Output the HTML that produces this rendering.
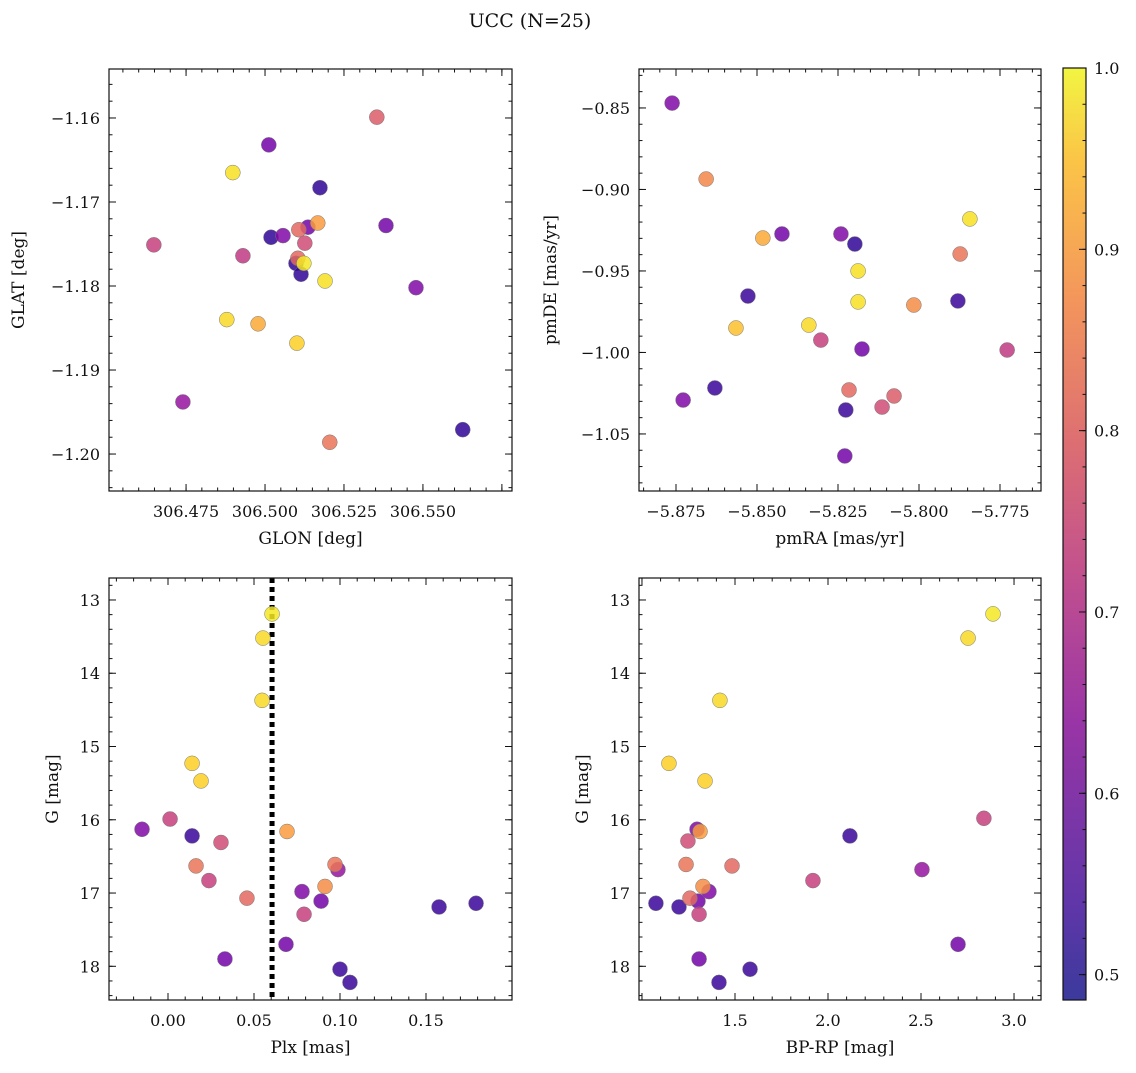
<!DOCTYPE html>
<html><head><meta charset="utf-8">
<style>
html,body{margin:0;padding:0;background:#fff;}
svg text{font-family:"DejaVu Serif","Liberation Serif",serif;fill:#111;}
</style></head>
<body>
<svg id="fig" width="1136" height="1068" xmlns="http://www.w3.org/2000/svg">
<defs>
<linearGradient id="cbgrad" x1="0" y1="1" x2="0" y2="0">
<stop offset="0" stop-color="#3b3a9c"/><stop offset="0.1" stop-color="#5f36a8"/><stop offset="0.3" stop-color="#9a35a6"/><stop offset="0.45" stop-color="#c04f8f"/><stop offset="0.6" stop-color="#dd6f72"/><stop offset="0.75" stop-color="#f3955c"/><stop offset="0.9" stop-color="#fbc447"/><stop offset="1" stop-color="#f2f542"/>
</linearGradient>
</defs>
<text x="530" y="27" font-size="19" text-anchor="middle">UCC (N=25)</text>
</svg>
<script>
// ---- data ----
const tlGlon=[306.5354,306.5012,306.4898,306.5174,306.4648,306.4930,306.5019,306.5057,306.5107,306.5136,306.5167,306.5126,306.5104,306.5098,306.5123,306.5114,306.5190,306.5383,306.5478,306.4879,306.4978,306.5101,306.4740,306.5205,306.5626];
const tlGlat=[-1.1599,-1.1632,-1.1665,-1.1683,-1.1751,-1.1764,-1.1742,-1.1740,-1.1733,-1.1730,-1.1725,-1.1749,-1.1767,-1.1773,-1.1773,-1.1786,-1.1794,-1.1728,-1.1802,-1.1840,-1.1845,-1.1868,-1.1938,-1.1986,-1.1971];
const tlProb=[0.78,0.6,0.97,0.52,0.73,0.72,0.52,0.62,0.8,0.6,0.88,0.75,0.8,0.52,0.98,0.52,0.97,0.6,0.62,0.96,0.9,0.95,0.65,0.82,0.52];
const trPmra=[-5.8762,-5.8657,-5.7843,-5.8482,-5.8423,-5.8241,-5.8198,-5.7873,-5.8188,-5.8528,-5.8188,-5.8016,-5.7880,-5.8565,-5.8340,-5.8303,-5.8176,-5.7728,-5.8728,-5.8630,-5.8216,-5.8114,-5.8077,-5.8226,-5.8229];
const trPmde=[-0.8470,-0.8936,-0.9181,-0.9298,-0.9273,-0.9273,-0.9335,-0.9396,-0.9500,-0.9654,-0.9690,-0.9709,-0.9684,-0.9850,-0.9832,-0.9924,-0.9979,-0.9985,-1.0292,-1.0218,-1.0230,-1.0335,-1.0267,-1.0353,-1.0635];
const trProb=[0.62,0.85,0.97,0.9,0.6,0.62,0.52,0.82,0.97,0.53,0.97,0.86,0.53,0.93,0.96,0.73,0.6,0.72,0.62,0.53,0.8,0.75,0.78,0.53,0.6];
const blPlx=[0.0605,0.0552,0.0547,0.0140,0.0192,-0.0151,0.0012,0.0140,0.0308,0.0692,0.0163,0.0238,0.0459,0.0971,0.0988,0.0913,0.0779,0.0890,0.0791,0.1576,0.1791,0.0331,0.0686,0.1000,0.1058];
const blG=[13.19,13.52,14.37,15.23,15.47,16.13,15.99,16.22,16.31,16.16,16.63,16.83,17.07,16.61,16.68,16.91,16.98,17.11,17.29,17.19,17.14,17.90,17.70,18.04,18.22];
const blProb=[0.98,0.96,0.96,0.95,0.95,0.62,0.73,0.53,0.75,0.88,0.82,0.73,0.8,0.82,0.65,0.86,0.62,0.6,0.73,0.53,0.53,0.6,0.6,0.53,0.53];
const brBprp=[2.887,2.753,1.419,1.145,1.339,2.838,1.296,1.247,1.312,2.118,1.237,1.484,2.505,1.919,1.328,1.360,1.258,1.301,1.075,1.199,1.307,2.699,1.307,1.581,1.414];
const brG=[13.19,13.52,14.37,15.23,15.47,15.98,16.13,16.29,16.16,16.22,16.61,16.63,16.68,16.83,16.91,16.98,17.07,17.11,17.14,17.19,17.29,17.70,17.90,18.04,18.22];
const brProb=[0.98,0.96,0.96,0.95,0.95,0.73,0.62,0.75,0.88,0.53,0.82,0.8,0.65,0.73,0.86,0.62,0.8,0.6,0.53,0.53,0.73,0.6,0.6,0.53,0.53];
const plxLine=[0.0605];
const cbTicks=[0.5,0.6,0.7,0.8,0.9,1.0];

const NS='http://www.w3.org/2000/svg';
const svg=document.getElementById('fig');
function el(tag,attrs,parent){const e=document.createElementNS(NS,tag);for(const k in attrs)e.setAttribute(k,attrs[k]);(parent||svg).appendChild(e);return e;}
const plasma=[[13,8,135],[65,4,157],[106,0,168],[143,13,164],[177,42,144],[204,71,120],[225,100,98],[242,132,75],[252,166,54],[252,206,37],[240,249,33]];
const cmin=0.486,cmax=1.0;
function cmap(v){let t=(v-cmin)/(cmax-cmin);t=Math.max(0,Math.min(1,t))*10;const i=Math.min(9,Math.floor(t)),f=t-i;const a=plasma[i],b=plasma[i+1];return 'rgb('+a.map((c,k)=>Math.round(c+(b[k]-c)*f)).join(',')+')';}
function fmt(v,d){const s=Math.abs(v).toFixed(d);return (v<-1e-12?'\u2212':'')+s;}

function panel(o){
  const g=el('g',{});
  
  
  const sx=v=>o.x0+(v-o.xmin)/(o.xmax-o.xmin)*(o.x1-o.x0);
  const sy=v=>o.invert? o.y0+(v-o.ymin)/(o.ymax-o.ymin)*(o.y1-o.y0) : o.y1-(v-o.ymin)/(o.ymax-o.ymin)*(o.y1-o.y0);
  const tg=el('g',{stroke:'#111','stroke-width':1},g);
  function ticks(min,max,step,len,axis,label,dec,lmin,lmax){
    const start=Math.ceil(min/step-1e-6)*step;
    for(let v=start;v<=max+1e-9;v+=step){
      const showLab=label && (lmin===undefined || (v>=lmin-1e-9 && v<=lmax+1e-9));
      if(axis==='x'){const p=sx(v);
        el('line',{x1:p,y1:o.y1,x2:p,y2:o.y1-len},tg);el('line',{x1:p,y1:o.y0,x2:p,y2:o.y0+len},tg);
        if(showLab){const t=el('text',{x:p,y:o.y1+26,'font-size':16,'text-anchor':'middle',stroke:'none'},g);t.textContent=fmt(v,dec);}
      }else{const p=sy(v);
        el('line',{x1:o.x0,y1:p,x2:o.x0+len,y2:p},tg);el('line',{x1:o.x1,y1:p,x2:o.x1-len,y2:p},tg);
        if(showLab){const t=el('text',{x:o.x0-9,y:p+6,'font-size':16,'text-anchor':'end',stroke:'none'},g);t.textContent=fmt(v,dec);}
      }
    }
  }
  ticks(o.xmin,o.xmax,o.xminor,3.5,'x',false);
  ticks(o.xmin,o.xmax,o.xmajor,7,'x',true,o.xdec,o.xlab[0],o.xlab[1]);
  ticks(o.ymin,o.ymax,o.yminor,3.5,'y',false);
  ticks(o.ymin,o.ymax,o.ymajor,7,'y',true,o.ydec);
  if(o.vline){for(const v of o.vline){const l=el('line',{x1:sx(v),x2:sx(v),y1:o.y0,y2:o.y1,stroke:'#000','stroke-width':5,'stroke-dasharray':'5,4'},g);}}
  const pg=el('g',{},g);
  
  
  const idx=o.xs.map((_,i)=>i).sort((a,b)=>o.cs[a]-o.cs[b]);
  for(const i of idx){
    const c=el('circle',{cx:sx(o.xs[i]),cy:sy(o.ys[i]),r:7.5,fill:cmap(o.cs[i]),'fill-opacity':0.85,stroke:'#777','stroke-width':0.5},pg);
    
    
  }
  const fr=el('rect',{x:o.x0,y:o.y0,width:o.x1-o.x0,height:o.y1-o.y0,fill:'none',stroke:'#111','stroke-width':1.2},g);
  
  
  const xl=el('text',{x:(o.x0+o.x1)/2,y:o.y1+53,'font-size':17,'text-anchor':'middle'},g);xl.textContent=o.xlabel;
  
  
  const ly=(o.y0+o.y1)/2;
  const yl=el('text',{x:o.ylx,y:ly,'font-size':17,'text-anchor':'middle',transform:'rotate(-90 '+o.ylx+' '+ly+')'},g);yl.textContent=o.ylabel;
  
  
}

panel({name:'glon-glat-panel',x0:109,x1:512,y0:69,y1:491,xmin:306.4506,xmax:306.5782,ymin:-1.2044,ymax:-1.15417,xmajor:0.025,xminor:0.005,ymajor:0.01,yminor:0.002,xdec:3,ydec:2,xlab:[306.475,306.55],xs:tlGlon,ys:tlGlat,cs:tlProb,xlabel:'GLON [deg]',ylabel:'GLAT [deg]',ylx:24});
panel({name:'pm-panel',x0:639,x1:1041,y0:69,y1:491,xmin:-5.88642,xmax:-5.76235,ymin:-1.085,ymax:-0.8261,xmajor:0.025,xminor:0.005,ymajor:0.05,yminor:0.01,xdec:3,ydec:2,xlab:[-5.875,-5.775],xs:trPmra,ys:trPmde,cs:trProb,xlabel:'pmRA [mas/yr]',ylabel:'pmDE [mas/yr]',ylx:556});
panel({name:'plx-g-panel',x0:109,x1:512,y0:578,y1:1000,xmin:-0.0343,xmax:0.2,ymin:12.70,ymax:18.46,invert:true,xmajor:0.05,xminor:0.01,ymajor:1,yminor:0.2,xdec:2,ydec:0,xlab:[0,0.15],xs:blPlx,ys:blG,cs:blProb,xlabel:'Plx [mas]',ylabel:'G [mag]',ylx:58,vline:plxLine});
panel({name:'cmd-panel',x0:639,x1:1041,y0:578,y1:1000,xmin:0.984,xmax:3.145,ymin:12.70,ymax:18.46,invert:true,xmajor:0.5,xminor:0.1,ymajor:1,yminor:0.2,xdec:1,ydec:0,xlab:[1.5,3.0],xs:brBprp,ys:brG,cs:brProb,xlabel:'BP-RP [mag]',ylabel:'G [mag]',ylx:588});

const cb=el('g',{});


const cx0=1063,cx1=1086,cy0=68,cy1=1000;
el('rect',{x:cx0,y:cy0,width:cx1-cx0,height:cy1-cy0,fill:'url(#cbgrad)',stroke:'#111','stroke-width':1.2},cb);
const cy=v=>cy1-(v-cmin)/(cmax-cmin)*(cy1-cy0);
for(let v=0.5;v<=1.0001;v+=0.02){el('line',{x1:cx1,x2:cx1-3.5,y1:cy(v),y2:cy(v),stroke:'#111'},cb);}
for(const v of cbTicks){el('line',{x1:cx1,x2:cx1-7,y1:cy(v),y2:cy(v),stroke:'#111'},cb);
  const t=el('text',{x:cx1+8,y:cy(v)+6,'font-size':16},cb);t.textContent=v.toFixed(1);
  
  }
</script>
</body></html>
